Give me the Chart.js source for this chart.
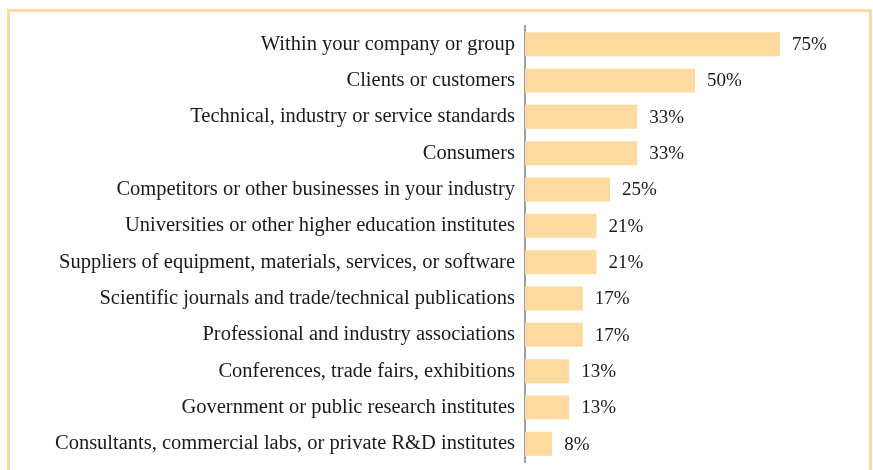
<!DOCTYPE html>
<html>
<head>
<meta charset="utf-8">
<script src="https://cdn.jsdelivr.net/npm/chart.js@4"></script>
<style>
  html, body { margin: 0; padding: 0; background: #fff; overflow: hidden; }
  #frame { position: absolute; left: 7px; top: 9px; width: 859px; height: 480px; border: 3px solid #FDDA9F; }
  #wrap { position: absolute; left: 0; top: 0; width: 873px; height: 470px; }
</style>
</head>
<body>
<div id="frame"></div>
<div id="wrap"><canvas id="c" width="873" height="470"></canvas></div>
<script>
const categories = [
  "Within your company or group",
  "Clients or customers",
  "Technical, industry or service standards",
  "Consumers",
  "Competitors or other businesses in your industry",
  "Universities or other higher education institutes",
  "Suppliers of equipment, materials, services, or software",
  "Scientific journals and trade/technical publications",
  "Professional and industry associations",
  "Conferences, trade fairs, exhibitions",
  "Government or public research institutes",
  "Consultants, commercial labs, or private R&D institutes"
];
const values = [75, 50, 33, 33, 25, 21, 21, 17, 17, 13, 13, 8];

const FAMILY = "'Liberation Serif', serif";

const valueLabels = {
  id: 'valueLabels',
  afterDatasetsDraw(chart) {
    const ctx = chart.ctx;
    ctx.save();
    ctx.font = '19px ' + FAMILY;
    ctx.fillStyle = '#1a1a1a';
    ctx.textBaseline = 'middle';
    ctx.textAlign = 'left';
    chart.getDatasetMeta(0).data.forEach((bar, i) => {
      ctx.fillText(values[i] + '%', bar.x + 12, bar.y + 1);
    });
    ctx.restore();
  }
};

new Chart(document.getElementById('c'), {
  type: 'bar',
  data: {
    labels: categories,
    datasets: [{
      data: values,
      backgroundColor: '#FDDA9F',
      borderWidth: 0,
      barPercentage: 0.66,
      categoryPercentage: 1.0
    }]
  },
  options: {
    indexAxis: 'y',
    responsive: false,
    animation: false,
    devicePixelRatio: 1,
    layout: { padding: { left: 0, top: 26, right: 8, bottom: 8 } },
    plugins: { legend: { display: false }, tooltip: { enabled: false } },
    scales: {
      x: { display: false, min: 0, max: 100 },
      y: {
        afterFit(scale) {
          scale.width = 525;
          scale.paddingTop = 0;
          scale.paddingBottom = 0;
        },
        grid: { display: false, drawTicks: false },
        border: { display: true, color: '#A0A0A0', width: 2 },
        ticks: { color: '#1a1a1a', font: { family: FAMILY, size: 20.5 }, padding: 10 }
      }
    }
  },
  plugins: [valueLabels]
});
</script>
</body>
</html>
